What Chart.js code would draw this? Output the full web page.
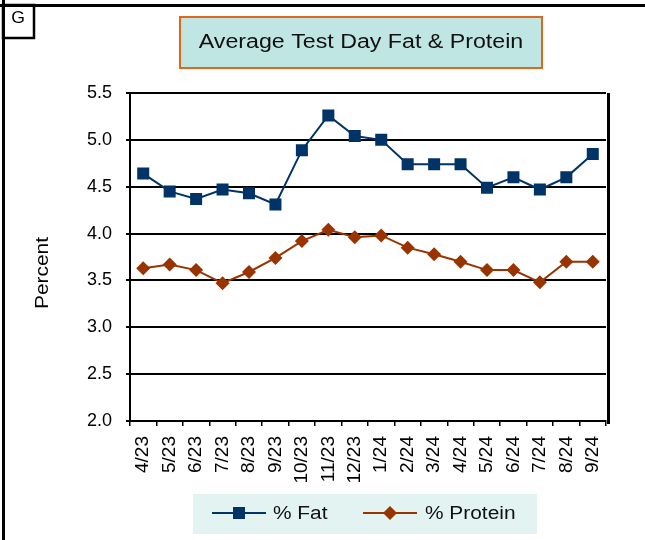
<!DOCTYPE html>
<html>
<head>
<meta charset="utf-8">
<script src="https://cdn.jsdelivr.net/npm/chart.js@4"></script>
<style>
  html, body { margin: 0; padding: 0; background: #fff; }
  canvas { display: block; }
</style>
</head>
<body>
<canvas id="chart" width="645" height="540"></canvas>
<script>
// chart values
const months = ['4/23', '5/23', '6/23', '7/23', '8/23', '9/23', '10/23', '11/23', '12/23',
  '1/24', '2/24', '3/24', '4/24', '5/24', '6/24', '7/24', '8/24', '9/24'];
const fatPct = [4.64, 4.45, 4.37, 4.47, 4.43, 4.31, 4.89, 5.26, 5.04, 5.00, 4.74, 4.74, 4.74, 4.49, 4.60, 4.47, 4.60, 4.85];
const proteinPct = [3.63, 3.67, 3.61, 3.47, 3.59, 3.74, 3.92, 4.04, 3.96, 3.98, 3.85, 3.78, 3.70, 3.61, 3.61, 3.48, 3.70, 3.70];
const titleText = 'Average Test Day Fat & Protein';
const yTitle = 'Percent';
const panelTag = 'G';

const FONT = '"Liberation Sans", Arial, sans-serif';
const NAVY = '#003366';
const BROWN = '#993300';

// text in the reference is a bit wider than Arial, so stretch it
function stretchText(ctx, text, x, y, size, factor, align) {
  ctx.save();
  ctx.font = size + 'px ' + FONT;
  const w = ctx.measureText(text).width * factor;
  let left = x;
  if (align === 'center') left = x - w / 2;
  ctx.translate(left, y);
  ctx.scale(factor, 1);
  ctx.textAlign = 'left';
  ctx.fillText(text, 0, 0);
  ctx.restore();
}

const decorPlugin = {
  id: 'decor',
  beforeDraw: (chart) => {
    const { ctx } = chart;
    ctx.save();
    ctx.fillStyle = '#ffffff';
    ctx.fillRect(0, 0, chart.width, chart.height);
    ctx.restore();
  },
  afterDraw: (chart) => {
    const { ctx, chartArea } = chart;
    ctx.save();

    // outer frame (top and left only)
    ctx.fillStyle = '#000';
    ctx.fillRect(0, 4, chart.width, 3);
    ctx.fillRect(2, 0, 3, chart.height);

    // panel tag box
    ctx.strokeStyle = '#000';
    ctx.lineWidth = 2.5;
    ctx.strokeRect(3, 5, 31, 33);
    ctx.fillStyle = '#000';
    ctx.textBaseline = 'alphabetic';
    stretchText(ctx, panelTag, 18, 23, 16, 1.1, 'center');

    // title box
    ctx.fillStyle = '#bfe6e3';
    ctx.fillRect(180, 17, 362, 51);
    ctx.strokeStyle = '#e0661a';
    ctx.lineWidth = 2;
    ctx.strokeRect(180, 17, 362, 51);
    ctx.fillStyle = '#111';
    stretchText(ctx, titleText, 361, 48, 20, 1.16, 'center');

    // y axis title
    ctx.save();
    ctx.translate(48, 273);
    ctx.rotate(-Math.PI / 2);
    ctx.fillStyle = '#000';
    stretchText(ctx, yTitle, 0, 0, 18, 1.16, 'center');
    ctx.restore();

    // right shadow edge of plot area
    ctx.fillStyle = '#000';
    ctx.fillRect(chartArea.right + 1, chartArea.top, 3, chartArea.bottom - chartArea.top + 3);

    // legend
    const lx = 193, ly = 494, lw = 344, lh = 40;
    ctx.fillStyle = '#e2f3f2';
    ctx.fillRect(lx, ly, lw, lh);
    const items = [
      { x: 212, tx: 273 },
      { x: 363, tx: 425 }
    ];
    chart.data.datasets.forEach((ds, i) => {
      const it = items[i];
      const cy = 513;
      ctx.strokeStyle = ds.borderColor;
      ctx.lineWidth = 2;
      ctx.beginPath();
      ctx.moveTo(it.x, cy);
      ctx.lineTo(it.x + 54, cy);
      ctx.stroke();
      ctx.fillStyle = ds.backgroundColor;
      if (ds.pointStyle === 'rect') {
        ctx.fillRect(it.x + 27 - 6, cy - 6, 12, 12);
      } else {
        ctx.beginPath();
        ctx.moveTo(it.x + 27 - 7, cy);
        ctx.lineTo(it.x + 27, cy - 7);
        ctx.lineTo(it.x + 27 + 7, cy);
        ctx.lineTo(it.x + 27, cy + 7);
        ctx.closePath();
        ctx.fill();
      }
      ctx.fillStyle = '#111';
      stretchText(ctx, ds.label, it.tx, 519, 18, 1.16, 'left');
    });

    ctx.restore();
  }
};

new Chart(document.getElementById('chart'), {
  type: 'line',
  data: {
    labels: months,
    datasets: [
      {
        label: '% Fat',
        data: fatPct,
        borderColor: NAVY,
        backgroundColor: NAVY,
        borderWidth: 2,
        pointStyle: 'rect',
        pointRadius: 8.5,
        pointBorderWidth: 0,
        tension: 0
      },
      {
        label: '% Protein',
        data: proteinPct,
        borderColor: BROWN,
        backgroundColor: BROWN,
        borderWidth: 2,
        pointStyle: 'rectRot',
        pointRadius: 7,
        pointBorderWidth: 0,
        tension: 0
      }
    ]
  },
  options: {
    responsive: false,
    animation: false,
    layout: { padding: { left: 0, right: 39, top: 93, bottom: 39 } },
    plugins: {
      legend: { display: false },
      title: { display: false },
      tooltip: { enabled: false }
    },
    scales: {
      x: {
        offset: true,
        grid: {
          offset: true,
          drawOnChartArea: false,
          drawTicks: true,
          tickLength: 5,
          color: '#000',
          lineWidth: 1.5
        },
        border: { display: true, color: '#000', width: 2 },
        ticks: {
          autoSkip: false,
          minRotation: 90,
          maxRotation: 90,
          padding: 10,
          color: '#000',
          font: { family: FONT, size: 19 }
        },
        afterFit: (scale) => { scale.height = 80; }
      },
      y: {
        min: 2,
        max: 5.5,
        grid: {
          color: '#000',
          lineWidth: 2,
          tickLength: 4
        },
        border: { display: true, color: '#000', width: 2 },
        ticks: {
          stepSize: 0.5,
          padding: 14,
          color: '#000',
          font: { family: FONT, size: 18 },
          callback: (v) => v.toFixed(1)
        },
        afterFit: (scale) => { scale.width = 130; }
      }
    }
  },
  plugins: [decorPlugin]
});
</script>
</body>
</html>
